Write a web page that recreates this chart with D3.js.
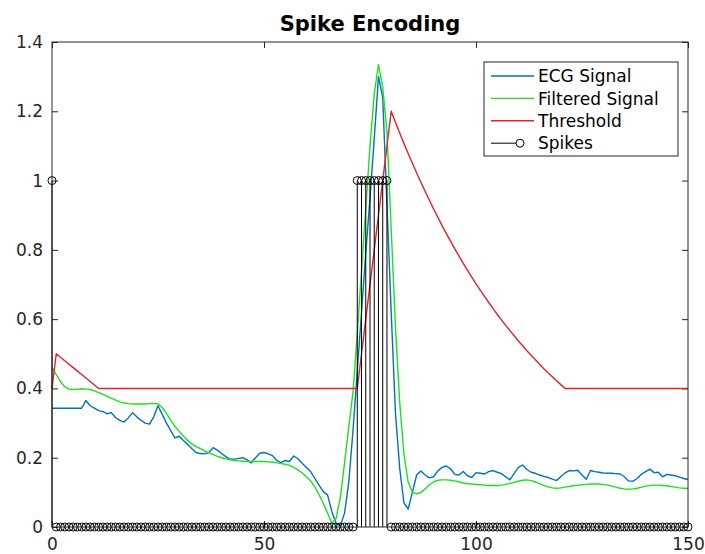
<!DOCTYPE html>
<html>
<head>
<meta charset="utf-8">
<script src="https://cdn.jsdelivr.net/npm/d3@7"></script>
<style>
  html, body { margin: 0; padding: 0; background: #fff; }
  svg { display: block; font-family: "DejaVu Sans", sans-serif; }
</style>
</head>
<body>
<svg id="chart" width="705" height="554"></svg>
<script>
// Raw ECG samples (index 0..150)
const ecgSignal = [
  0.343, 0.343, 0.343, 0.343, 0.343, 0.343, 0.343, 0.343, 0.365, 0.350,
  0.343, 0.336, 0.333, 0.327, 0.330, 0.316, 0.308, 0.303, 0.315, 0.330,
  0.318, 0.308, 0.300, 0.297, 0.318, 0.350, 0.325, 0.300, 0.278, 0.257,
  0.262, 0.250, 0.238, 0.226, 0.215, 0.212, 0.211, 0.215, 0.229, 0.222,
  0.212, 0.203, 0.196, 0.196, 0.198, 0.200, 0.194, 0.185, 0.200, 0.213,
  0.215, 0.211, 0.206, 0.192, 0.186, 0.192, 0.189, 0.205, 0.197, 0.184,
  0.172, 0.160, 0.140, 0.120, 0.102, 0.092, 0.045, 0.010, 0.004, 0.040,
  0.130, 0.280, 0.450, 0.620, 0.790, 0.950, 1.120, 1.300, 1.240, 0.930,
  0.620, 0.330, 0.170, 0.070, 0.052, 0.100, 0.150, 0.162, 0.150, 0.142,
  0.145, 0.162, 0.172, 0.176, 0.168, 0.152, 0.150, 0.160, 0.148, 0.143,
  0.157, 0.155, 0.153, 0.160, 0.163, 0.158, 0.154, 0.145, 0.136, 0.155,
  0.172, 0.179, 0.166, 0.158, 0.155, 0.150, 0.146, 0.143, 0.138, 0.134,
  0.146, 0.156, 0.163, 0.162, 0.164, 0.150, 0.138, 0.163, 0.160, 0.158,
  0.156, 0.155, 0.155, 0.154, 0.153, 0.145, 0.133, 0.132, 0.140, 0.152,
  0.160, 0.167, 0.157, 0.158, 0.145, 0.152, 0.150, 0.148, 0.144, 0.140,
  0.137
];

// Smoothed ECG
const filteredSignal = [
  0.460, 0.440, 0.420, 0.405, 0.398, 0.397, 0.398, 0.399, 0.398, 0.397,
  0.393, 0.388, 0.383, 0.377, 0.371, 0.366, 0.361, 0.358, 0.356, 0.355,
  0.355, 0.355, 0.355, 0.356, 0.357, 0.355, 0.345, 0.328, 0.308, 0.290,
  0.276, 0.262, 0.250, 0.240, 0.232, 0.226, 0.220, 0.214, 0.209, 0.204,
  0.200, 0.197, 0.194, 0.192, 0.191, 0.190, 0.189, 0.189, 0.189, 0.189,
  0.189, 0.188, 0.187, 0.185, 0.183, 0.181, 0.178, 0.172, 0.165, 0.156,
  0.145, 0.133, 0.115, 0.093, 0.068, 0.040, 0.010, 0.025, 0.085, 0.185,
  0.290, 0.390, 0.560, 0.740, 0.920, 1.100, 1.250, 1.335, 1.270, 1.140,
  0.860, 0.580, 0.360, 0.210, 0.130, 0.100, 0.096, 0.100, 0.110, 0.122,
  0.130, 0.135, 0.136, 0.136, 0.135, 0.133, 0.130, 0.127, 0.125, 0.124,
  0.123, 0.122, 0.121, 0.120, 0.120, 0.120, 0.121, 0.123, 0.126, 0.129,
  0.132, 0.135, 0.136, 0.134, 0.130, 0.125, 0.120, 0.116, 0.113, 0.112,
  0.113, 0.115, 0.117, 0.119, 0.121, 0.122, 0.123, 0.124, 0.124, 0.124,
  0.123, 0.121, 0.118, 0.115, 0.112, 0.110, 0.109, 0.110, 0.112, 0.115,
  0.118, 0.120, 0.121, 0.121, 0.120, 0.119, 0.117, 0.115, 0.113, 0.112,
  0.111
];

// Adaptive firing threshold
const threshold = [
  0.40,
  0.50, 0.49, 0.48, 0.47, 0.46, 0.45, 0.44, 0.43, 0.42, 0.41, 0.40,
  0.40, 0.40, 0.40, 0.40, 0.40, 0.40, 0.40, 0.40, 0.40, 0.40,
  0.40, 0.40, 0.40, 0.40, 0.40, 0.40, 0.40, 0.40, 0.40, 0.40,
  0.40, 0.40, 0.40, 0.40, 0.40, 0.40, 0.40, 0.40, 0.40, 0.40,
  0.40, 0.40, 0.40, 0.40, 0.40, 0.40, 0.40, 0.40, 0.40, 0.40,
  0.40, 0.40, 0.40, 0.40, 0.40, 0.40, 0.40, 0.40, 0.40, 0.40,
  0.40, 0.40, 0.40, 0.40, 0.40, 0.40, 0.40, 0.40, 0.40, 0.40,
  0.40,
  0.50, 0.60, 0.70, 0.80, 0.90, 1.00, 1.10, 1.20,
  1.168, 1.137, 1.107, 1.078, 1.050, 1.022, 0.995, 0.969, 0.943, 0.918,
  0.894, 0.870, 0.847, 0.825, 0.803, 0.782, 0.761, 0.741, 0.721, 0.702,
  0.684, 0.666, 0.648, 0.631, 0.614, 0.598, 0.582, 0.567, 0.552, 0.537,
  0.523, 0.509, 0.496, 0.483, 0.470, 0.457, 0.445, 0.434, 0.422, 0.411,
  0.400,
  0.40, 0.40, 0.40, 0.40, 0.40, 0.40, 0.40, 0.40, 0.40, 0.40,
  0.40, 0.40, 0.40, 0.40, 0.40, 0.40, 0.40, 0.40, 0.40, 0.40,
  0.40, 0.40, 0.40, 0.40, 0.40, 0.40, 0.40, 0.40, 0.40
];

// Spike train (1 = spike fired at that sample)
const spikes = [
  1, 0, 0, 0, 0, 0, 0, 0, 0, 0,
  0, 0, 0, 0, 0, 0, 0, 0, 0, 0,
  0, 0, 0, 0, 0, 0, 0, 0, 0, 0,
  0, 0, 0, 0, 0, 0, 0, 0, 0, 0,
  0, 0, 0, 0, 0, 0, 0, 0, 0, 0,
  0, 0, 0, 0, 0, 0, 0, 0, 0, 0,
  0, 0, 0, 0, 0, 0, 0, 0, 0, 0,
  0, 0, 1, 1, 1, 1, 1, 1, 1, 1,
  0, 0, 0, 0, 0, 0, 0, 0, 0, 0,
  0, 0, 0, 0, 0, 0, 0, 0, 0, 0,
  0, 0, 0, 0, 0, 0, 0, 0, 0, 0,
  0, 0, 0, 0, 0, 0, 0, 0, 0, 0,
  0, 0, 0, 0, 0, 0, 0, 0, 0, 0,
  0, 0, 0, 0, 0, 0, 0, 0, 0, 0,
  0, 0, 0, 0, 0, 0, 0, 0, 0, 0,
  0
];

const xTicks = [0, 50, 100, 150];
const yTicks = [0, 0.2, 0.4, 0.6, 0.8, 1, 1.2, 1.4];
const yTickLabels = ["0", "0.2", "0.4", "0.6", "0.8", "1", "1.2", "1.4"];
const seriesNames = ["ECG Signal", "Filtered Signal", "Threshold", "Spikes"];
const chartTitle = "Spike Encoding";

const colors = {
  ecg: "#0072BD",
  filtered: "#1fe01f",
  threshold: "#e0222c",
  spikes: "#000000",
  axis: "#262626"
};

const plot = { left: 52, right: 688, top: 42, bottom: 527 };

const svg = d3.select("#chart");

const x = d3.scaleLinear().domain([0, 150]).range([plot.left, plot.right]);
const y = d3.scaleLinear().domain([0, 1.4]).range([plot.bottom, plot.top]);

const idx = d3.range(ecgSignal.length);

// Axes (inward ticks, boxed frame)
const tickLen = 6;
const fontSize = 17;

const gx = svg.append("g")
  .attr("transform", `translate(0,${plot.bottom})`)
  .call(d3.axisBottom(x).tickValues(xTicks).tickSize(-tickLen).tickPadding(11)
    .tickFormat(d3.format("d")));
const gxTop = svg.append("g")
  .attr("transform", `translate(0,${plot.top})`)
  .call(d3.axisTop(x).tickValues(xTicks).tickSize(-tickLen).tickFormat(""));
const gy = svg.append("g")
  .attr("transform", `translate(${plot.left},0)`)
  .call(d3.axisLeft(y).tickValues(yTicks).tickSize(-tickLen).tickPadding(9)
    .tickFormat((d, i) => yTickLabels[i]));
const gyRight = svg.append("g")
  .attr("transform", `translate(${plot.right},0)`)
  .call(d3.axisRight(y).tickValues(yTicks).tickSize(-tickLen).tickFormat(""));

[gx, gxTop, gy, gyRight].forEach(g => {
  g.select(".domain").remove();
  g.selectAll(".tick line").attr("stroke", colors.axis).attr("stroke-width", 1);
  g.selectAll(".tick text")
    .attr("fill", colors.axis)
    .style("font-family", "DejaVu Sans, sans-serif")
    .style("font-size", fontSize + "px");
});

// Line series
function drawSeries(values, color) {
  svg.append("path")
    .datum(idx)
    .attr("fill", "none")
    .attr("stroke", color)
    .attr("stroke-width", 1.4)
    .attr("stroke-linejoin", "round")
    .attr("d", d3.line().x(i => x(i)).y(i => y(values[i])));
}
drawSeries(ecgSignal, colors.ecg);
drawSeries(filteredSignal, colors.filtered);
drawSeries(threshold, colors.threshold);

// Stem plot of spikes
const stems = svg.append("g");
stems.selectAll("line")
  .data(idx.filter(i => spikes[i] > 0))
  .join("line")
  .attr("x1", i => x(i)).attr("x2", i => x(i))
  .attr("y1", y(0)).attr("y2", i => y(spikes[i]))
  .attr("stroke", colors.spikes)
  .attr("stroke-width", 1);
stems.selectAll("circle")
  .data(idx)
  .join("circle")
  .attr("cx", i => x(i))
  .attr("cy", i => y(spikes[i]))
  .attr("r", 4)
  .attr("fill", "none")
  .attr("stroke", colors.spikes)
  .attr("stroke-width", 1);

// Axes box
svg.append("rect")
  .attr("x", plot.left).attr("y", plot.top)
  .attr("width", plot.right - plot.left).attr("height", plot.bottom - plot.top)
  .attr("fill", "none").attr("stroke", colors.axis).attr("stroke-width", 1);

// Title
svg.append("text")
  .attr("x", (plot.left + plot.right) / 2)
  .attr("y", 31)
  .attr("text-anchor", "middle")
  .style("font-family", "DejaVu Sans, sans-serif")
  .style("font-weight", "bold")
  .style("font-size", "21px")
  .attr("fill", "#000")
  .text(chartTitle);

// Legend
const legend = { x: 484, y: 62, w: 194, h: 94 };
const lg = svg.append("g");
lg.append("rect")
  .attr("x", legend.x).attr("y", legend.y)
  .attr("width", legend.w).attr("height", legend.h)
  .attr("fill", "#fff").attr("stroke", colors.axis).attr("stroke-width", 1);

const legendColors = [colors.ecg, colors.filtered, colors.threshold, colors.spikes];
const rowY = i => legend.y + 14 + i * 22.4;
seriesNames.forEach((name, i) => {
  const ry = rowY(i);
  if (i < 3) {
    lg.append("line")
      .attr("x1", legend.x + 7).attr("x2", legend.x + 50)
      .attr("y1", ry).attr("y2", ry)
      .attr("stroke", legendColors[i]).attr("stroke-width", 1.4);
  } else {
    lg.append("line")
      .attr("x1", legend.x + 7).attr("x2", legend.x + 32)
      .attr("y1", ry).attr("y2", ry)
      .attr("stroke", legendColors[i]).attr("stroke-width", 1);
    lg.append("circle")
      .attr("cx", legend.x + 36).attr("cy", ry).attr("r", 4)
      .attr("fill", "none").attr("stroke", legendColors[i]).attr("stroke-width", 1);
  }
  lg.append("text")
    .attr("x", legend.x + 54)
    .attr("y", ry)
    .attr("dy", "0.36em")
    .style("font-family", "DejaVu Sans, sans-serif")
    .style("font-size", fontSize + "px")
    .attr("fill", "#000")
    .text(name);
});
</script>
</body>
</html>
